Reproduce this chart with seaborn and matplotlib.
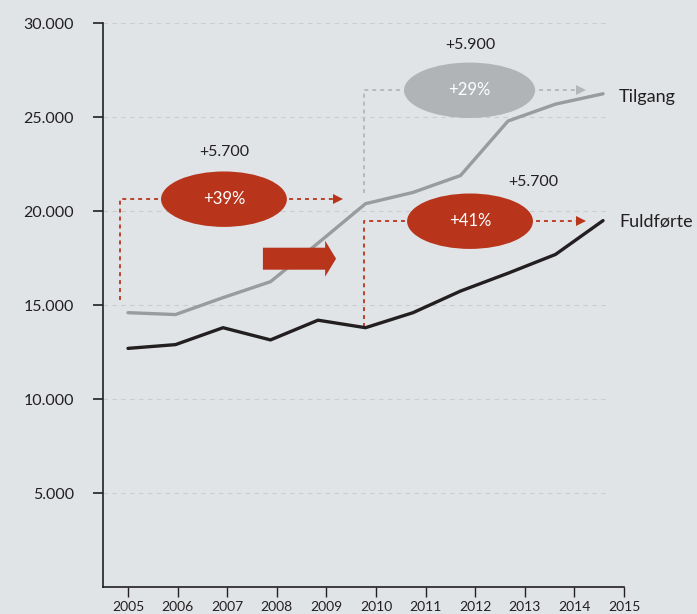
import numpy as np
import pandas as pd
import seaborn as sns
import matplotlib.pyplot as plt
from matplotlib.patches import Ellipse, FancyArrow

years = [2005, 2006, 2007, 2008, 2009, 2010, 2011, 2012, 2013, 2014, 2015]
tilgang = [14600, 14500, 15400, 16250, 18300, 20400, 21000, 21900, 24800, 25700, 26250]
fuldforte = [12700, 12900, 13800, 13150, 14200, 13800, 14600, 15750, 16700, 17700, 19500]
series_names = ["Tilgang", "Fuldførte"]
tick_years = list(range(2005, 2016))
ytick_vals = [5000, 10000, 15000, 20000, 25000, 30000]
ytick_labels = ["5.000", "10.000", "15.000", "20.000", "25.000", "30.000"]

BG = "#e1e4e7"
RED = "#b8351c"
GREY_LINE = "#999b9d"
GREY_BUBBLE = "#b1b4b7"
DARK = "#231f20"

sns.set_style("ticks", {"axes.facecolor": BG, "figure.facecolor": BG})
plt.rcParams['font.family'] = ['Lato', 'DejaVu Sans']

df = pd.DataFrame({
    "year": years * 2,
    "value": tilgang + fuldforte,
    "serie": [series_names[0]] * len(years) + [series_names[1]] * len(years),
})

fig = plt.figure(figsize=(6.97, 6.14), dpi=100)
ax = fig.add_axes([0.1478, 0.044, 0.7475, 0.918])

# gridlines first so lines sit on top
ax.hlines(ytick_vals, 2004.474, 2015.1, colors="#c9ccd0", linestyles=(0, (4, 4)), linewidth=0.8, zorder=0)

sns.lineplot(data=df, x="year", y="value", hue="serie",
             palette={"Tilgang": GREY_LINE, "Fuldførte": DARK},
             linewidth=2.4, legend=False, ax=ax, zorder=3)

ax.set_xlim(2004.474, 2015.44)
ax.set_ylim(0, 30000)
stretch = 49.6 / 47.5
ax.set_xticks([2005 + (y - 2005) * stretch for y in tick_years])
ax.set_xticklabels([str(y) for y in tick_years], fontsize=10, color=DARK)
ax.set_yticks(ytick_vals)
ax.set_yticklabels(ytick_labels, fontsize=11.5, color=DARK)
ax.tick_params(axis="y", length=7, width=1.2, pad=14, color=DARK)
ax.tick_params(axis="x", length=7, width=1.0, pad=3, color=DARK)
ax.set_xlabel("")
ax.set_ylabel("")
for s in ["top", "right"]:
    ax.spines[s].set_visible(False)
for s in ["left", "bottom"]:
    ax.spines[s].set_color(DARK)
    ax.spines[s].set_linewidth(1.2)

dots = (0, (2.2, 2.2))

def bracket(x, y0, y1, x_end, color, bubble_color, bubble_x, bubble_w, pct):
    ax.plot([x, x, x_end - 0.12], [y0, y1, y1], color=color, linestyle=dots, linewidth=1.3, zorder=2)
    ax.plot([x_end - 0.1], [y1], marker=">", markersize=7, color=color, markeredgewidth=0, zorder=2)
    ax.add_patch(Ellipse((bubble_x, y1), bubble_w, 2950, facecolor=bubble_color, edgecolor="none", zorder=4))
    ax.text(bubble_x, y1, pct, color="white", fontsize=12, ha="center", va="center", zorder=5)

bracket(2004.83, 15270, 20640, 2009.53, RED, RED, 2007.02, 2.65, "+39%")
bracket(2009.97, 20960, 26436, 2014.64, "#b4b7ba", GREY_BUBBLE, 2012.19, 2.76, "+29%")
bracket(2009.97, 13830, 19468, 2014.64, RED, RED, 2012.2, 2.65, "+41%")

ax.text(2007.02, 23140, "+5.700", fontsize=11.5, color=DARK, ha="center", va="center")
ax.text(2012.2, 28830, "+5.900", fontsize=11.5, color=DARK, ha="center", va="center")
ax.text(2013.53, 21543, "+5.700", fontsize=11.5, color=DARK, ha="center", va="center")

ax.add_patch(FancyArrow(2007.84, 17473, 1.54, 0, width=1170, head_width=1915,
                        head_length=0.23, length_includes_head=True,
                        facecolor=RED, edgecolor="none", zorder=4))

ax.text(2015.34, 26064, "Tilgang", fontsize=13, color=DARK, ha="left", va="center")
ax.text(2015.34, 19468, "Fuldførte", fontsize=13, color=DARK, ha="left", va="center")

fig.savefig("out.png", dpi=100, facecolor=BG)
